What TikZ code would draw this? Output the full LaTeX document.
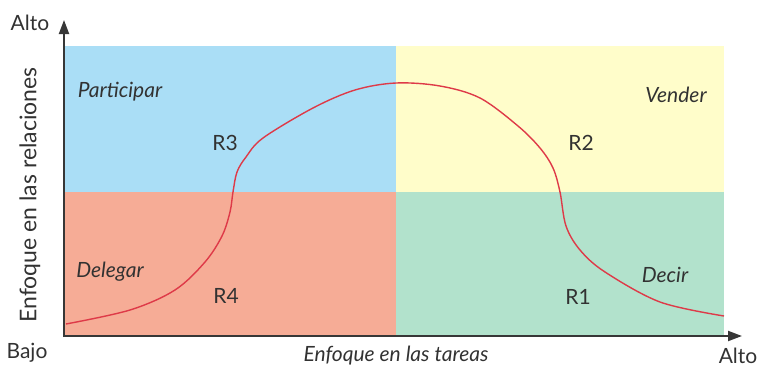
\documentclass[tikz,border=0pt]{standalone}
\usepackage{fontspec}
\setmainfont{Lato}
\usetikzlibrary{arrows.meta}
\definecolor{qblue}{RGB}{170,222,246}
\definecolor{qyellow}{RGB}{255,253,202}
\definecolor{qsalmon}{RGB}{246,172,150}
\definecolor{qgreen}{RGB}{178,226,204}
\definecolor{axisgray}{RGB}{55,55,55}
\definecolor{curvered}{RGB}{222,58,72}
\definecolor{txt}{RGB}{50,50,50}
\tikzset{
  lbl/.style={text=txt,font=\fontsize{21}{24}\selectfont,inner sep=0pt},
  ilbl/.style={lbl,font=\fontsize{21}{24}\selectfont\itshape},
  axisline/.style={draw=axisgray,line width=2pt,-{Triangle[length=14pt,width=10pt]}}
}
\begin{document}
\begin{tikzpicture}[x=1pt,y=-1pt]
\useasboundingbox (0,0) rectangle (757,367);
\fill[qblue] (64,46) rectangle (396,192);
\fill[qyellow] (396,46) rectangle (724,192);
\fill[qsalmon] (64,192) rectangle (396,336);
\fill[qgreen] (396,192) rectangle (724,336);
\draw[curvered,line width=1.4pt] plot[smooth,tension=0.55] coordinates {(66,324) (130,310) (175,290) (205,262) (222,236) (230,212) (233,192) (237,172) (246,157) (263,138) (313,108) (355,90) (396,83) (440,86) (480,98) (518,126) (540,148) (553,168) (560,192) (566,226) (580,250) (605,272) (660,302) (724,316)};
\coordinate (o) at (64,337);
\coordinate (ytip) at (64,20);
\coordinate (xtip) at (742,336);
\draw[axisline] (o) -- (ytip);
\draw[axisline] (63,336) -- (xtip);
\node[lbl] (altoy) at (30,23) {Alto};
\node[lbl] (bajo) at (27,353) {Bajo};
\node[lbl] (altox) at (738,356) {Alto};
\node[ilbl] (xlab) at (396,356) {Enfoque en las tareas};
\node[lbl,rotate=90,font=\fontsize{23}{26}\selectfont] (ylab) at (30,195) {Enfoque en las relaciones};
\node[ilbl] (part) at (120,92) {Participar};
\node[ilbl] (vend) at (676,95) {Vender};
\node[ilbl] (deleg) at (110,272) {Delegar};
\node[ilbl] (decir) at (665,275) {Decir};
\node[lbl] (r3) at (225,143) {R3};
\node[lbl] (r2) at (581,143) {R2};
\node[lbl] (r4) at (226,296) {R4};
\node[lbl] (r1) at (578,297) {R1};
\end{tikzpicture}
\end{document}
